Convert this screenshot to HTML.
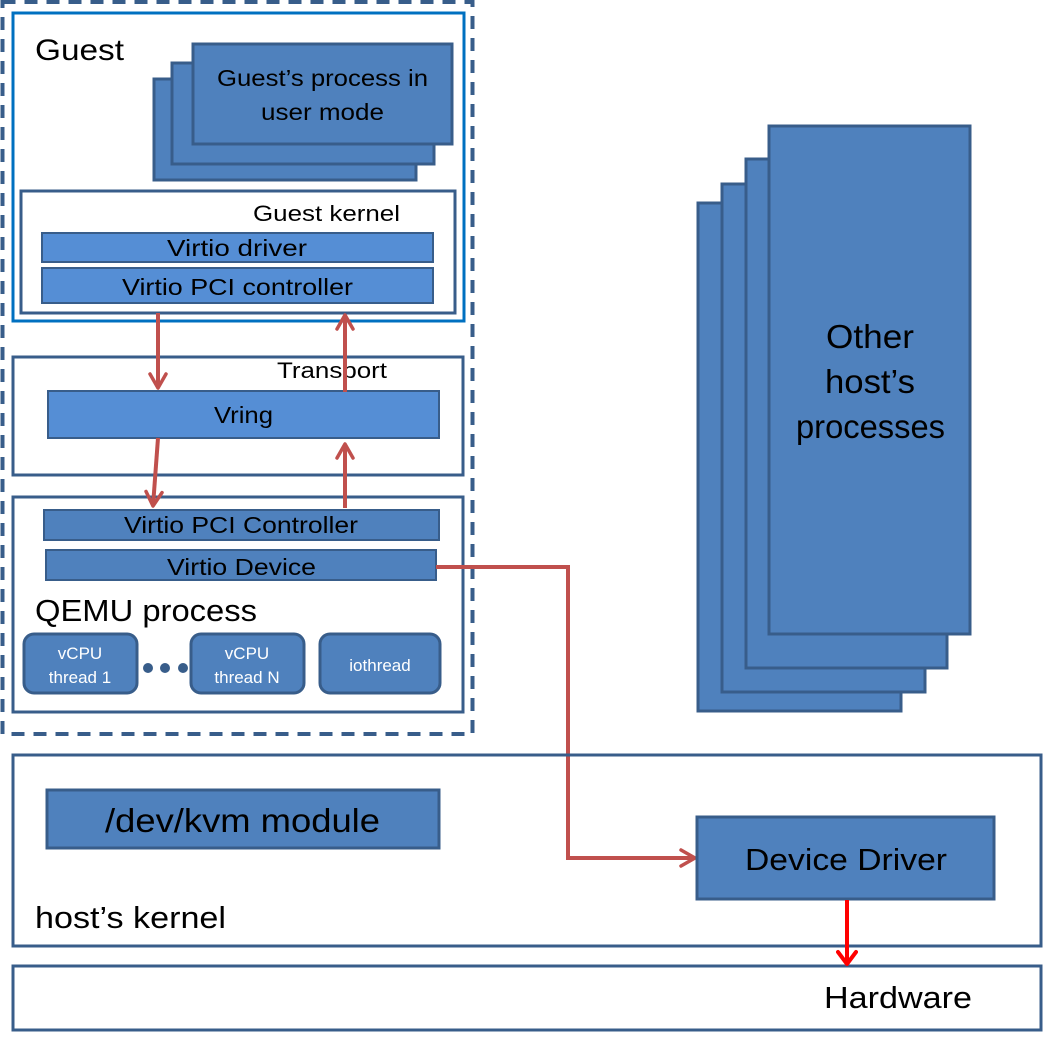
<!DOCTYPE html>
<html><head><meta charset="utf-8"><style>html,body{margin:0;padding:0;background:#fff}svg{display:block}text{font-family:"Liberation Sans",sans-serif}</style></head>
<body>
<svg width="1043" height="1042" viewBox="0 0 1043 1042" xmlns="http://www.w3.org/2000/svg">
<defs>
<marker id="b" markerWidth="22" markerHeight="22" refX="18" refY="11" orient="auto" markerUnits="userSpaceOnUse"><path d="M4,3 L18,11 L4,19" fill="none" stroke="#c0504d" stroke-width="3.5" stroke-linecap="round" stroke-linejoin="round"/></marker>
<marker id="c" markerWidth="22" markerHeight="22" refX="18" refY="11" orient="auto" markerUnits="userSpaceOnUse"><path d="M6,2 L18,11 L6,20" fill="none" stroke="#ff0000" stroke-width="4" stroke-linecap="round" stroke-linejoin="round"/></marker>
</defs>
<g fill="none" stroke="#385d8a" stroke-width="3">
<rect x="2.5" y="2" width="470" height="732" stroke-dasharray="13,9" stroke-width="4"/>
<rect x="13" y="13" width="451" height="308" stroke="#0070c0"/>
</g>
<g fill="#4f81bd" stroke="#385d8a" stroke-width="3">
<rect x="154" y="79" width="262" height="101"/>
<rect x="172" y="63" width="262" height="101"/>
<rect x="193" y="44" width="259" height="100"/>
</g>
<text x="35" y="60" font-size="30" textLength="89" lengthAdjust="spacingAndGlyphs">Guest</text>
<text x="217" y="86" font-size="23" textLength="211" lengthAdjust="spacingAndGlyphs">Guest’s process in</text>
<text x="261" y="120" font-size="23" textLength="123" lengthAdjust="spacingAndGlyphs">user mode</text>
<rect x="21" y="191" width="434" height="122" fill="none" stroke="#385d8a" stroke-width="3"/>
<text x="253" y="221" font-size="22" textLength="147" lengthAdjust="spacingAndGlyphs">Guest kernel</text>
<rect x="42" y="233" width="391" height="29" fill="#558ed5" stroke="#385d8a" stroke-width="2"/>
<rect x="42" y="268" width="391" height="35" fill="#558ed5" stroke="#385d8a" stroke-width="2"/>
<text x="167" y="256" font-size="23" textLength="140" lengthAdjust="spacingAndGlyphs">Virtio driver</text>
<text x="122" y="295" font-size="23" textLength="231" lengthAdjust="spacingAndGlyphs">Virtio PCI controller</text>

<rect x="13" y="357" width="450" height="118" fill="none" stroke="#385d8a" stroke-width="3"/>
<text x="277" y="378" font-size="22" textLength="110" lengthAdjust="spacingAndGlyphs">Transport</text>
<rect x="48" y="391" width="391" height="47" fill="#558ed5" stroke="#385d8a" stroke-width="2"/>
<text x="214" y="423" font-size="23" textLength="59" lengthAdjust="spacingAndGlyphs">Vring</text>

<rect x="13" y="497" width="450" height="215" fill="none" stroke="#385d8a" stroke-width="3"/>
<rect x="44" y="510" width="395" height="30" fill="#4f81bd" stroke="#385d8a" stroke-width="2"/>
<rect x="46" y="550" width="390" height="30" fill="#4f81bd" stroke="#385d8a" stroke-width="2"/>
<text x="124" y="533" font-size="23" textLength="234" lengthAdjust="spacingAndGlyphs">Virtio PCI Controller</text>
<text x="167" y="575" font-size="23" textLength="149" lengthAdjust="spacingAndGlyphs">Virtio Device</text>
<text x="35" y="621" font-size="31" textLength="222" lengthAdjust="spacingAndGlyphs">QEMU process</text>
<g fill="#4f81bd" stroke="#385d8a" stroke-width="3">
<rect x="24" y="634" width="113" height="59" rx="10"/>
<rect x="191" y="634" width="113" height="59" rx="10"/>
<rect x="320" y="634" width="120" height="59" rx="10"/>
</g>
<g fill="#385d8a"><circle cx="148" cy="668" r="5"/><circle cx="165" cy="668" r="5"/><circle cx="183" cy="668" r="5"/></g>
<g fill="#fff" font-size="17" text-anchor="middle">
<text x="80" y="659">vCPU</text><text x="80" y="683">thread 1</text>
<text x="247" y="659">vCPU</text><text x="247" y="683">thread N</text>
<text x="380" y="671">iothread</text>
</g>

<g stroke="#c0504d" stroke-width="4" fill="none">
<line x1="158" y1="313" x2="158" y2="388" marker-end="url(#b)"/>
<line x1="345" y1="392" x2="345" y2="315" marker-end="url(#b)"/>
<line x1="158" y1="438" x2="153" y2="506" marker-end="url(#b)"/>
<line x1="345" y1="508" x2="345" y2="444" marker-end="url(#b)"/>
<polyline points="436,567 568,567 568,858 695,858" marker-end="url(#b)"/>
</g>

<g fill="#4f81bd" stroke="#385d8a" stroke-width="3">
<rect x="698" y="203" width="203" height="508"/>
<rect x="722" y="184" width="203" height="508"/>
<rect x="746" y="159" width="201" height="509"/>
<rect x="769" y="126" width="201" height="508"/>
</g>
<g font-size="33">
<text x="826" y="348" textLength="88" lengthAdjust="spacingAndGlyphs">Other</text>
<text x="825" y="393" textLength="90" lengthAdjust="spacingAndGlyphs">host’s</text>
<text x="796" y="438" textLength="149" lengthAdjust="spacingAndGlyphs">processes</text>
</g>

<rect x="13" y="755" width="1028" height="191" fill="none" stroke="#385d8a" stroke-width="3"/>
<rect x="47" y="790" width="392" height="58" fill="#4f81bd" stroke="#385d8a" stroke-width="3"/>
<text x="105" y="832" font-size="33" textLength="275" lengthAdjust="spacingAndGlyphs">/dev/kvm module</text>
<rect x="697" y="817" width="297" height="82" fill="#4f81bd" stroke="#385d8a" stroke-width="3"/>
<text x="745" y="870" font-size="31" textLength="202" lengthAdjust="spacingAndGlyphs">Device Driver</text>
<text x="35" y="928" font-size="31" textLength="191" lengthAdjust="spacingAndGlyphs">host’s kernel</text>
<rect x="13" y="966" width="1028" height="64" fill="none" stroke="#385d8a" stroke-width="3"/>
<text x="824" y="1008" font-size="31" textLength="148" lengthAdjust="spacingAndGlyphs">Hardware</text>
<line x1="847" y1="900" x2="847" y2="964" stroke="#ff0000" stroke-width="4" marker-end="url(#c)"/>
</svg>
</body></html>
